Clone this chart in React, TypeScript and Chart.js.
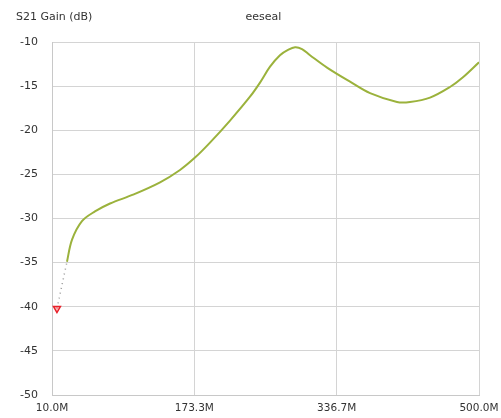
import React, { useEffect, useRef } from "react";
import { Chart, registerables } from "chart.js";

Chart.register(...registerables);

const freqsM = [15.7, 27.2, 33, 44.4, 59.3, 76.6, 103, 134, 156.9, 174.1, 191.3, 214.3, 237.2, 248.7, 260.2, 271.6, 280.8, 288.9, 296.9, 306.1, 325.6, 352, 375, 405.9, 420.8, 443.8, 466.7, 481.6, 500];
const gainDb = [-40.2, -34.9, -32.4, -30.3, -29.2, -28.3, -27.3, -25.9, -24.5, -23.1, -21.4, -18.9, -16.2, -14.6, -12.8, -11.5, -10.9, -10.6, -10.8, -11.5, -12.9, -14.5, -15.8, -16.8, -16.8, -16.3, -15.1, -14.0, -12.3];
const xTickValues = [10, 173.33, 336.67, 500];
const xTickLabels = ["10.0M", "173.3M", "336.7M", "500.0M"];
const yTickValues = [-10, -15, -20, -25, -30, -35, -40, -45, -50];
const chartTitle = "eeseal";
const yAxisTitle = "S21 Gain (dB)";

const FONT = "DejaVu Sans";

export default function App() {
  const ref = useRef<HTMLCanvasElement | null>(null);
  useEffect(() => {
    document.body.style.margin = "0";
    const textPlugin = {
      id: "texts",
      afterDraw(chart: any) {
        const ctx = chart.ctx;
        const area = chart.chartArea;
        ctx.save();
        ctx.fillStyle = "#333";
        ctx.font = `11px "${FONT}"`;
        ctx.textBaseline = "middle";
        ctx.textAlign = "left";
        ctx.fillText(yAxisTitle, 16, 17);
        ctx.textAlign = "center";
        ctx.fillText(chartTitle, (area.left + area.right) / 2 - 2, 17);
        ctx.restore();
      },
    };
    const chart = new Chart(ref.current!, {
      type: "line",
      data: {
        datasets: [
          {
            data: freqsM.map((f, i) => ({ x: f, y: gainDb[i] })),
            borderColor: "#9bb23c",
            borderWidth: 2,
            tension: 0.35,
            pointRadius: (c: any) => (c.dataIndex === 0 ? 4 : 0),
            pointStyle: "triangle",
            rotation: 180,
            pointBorderColor: "#e8202a",
            pointBackgroundColor: "rgba(255,120,120,0.5)",
            pointBorderWidth: 1.5,
            segment: {
              borderDash: (c: any) => (c.p0DataIndex === 0 ? [1, 4] : undefined),
              borderColor: (c: any) => (c.p0DataIndex === 0 ? "#999" : undefined),
              borderWidth: (c: any) => (c.p0DataIndex === 0 ? 1.5 : undefined),
            },
          } as any,
        ],
      },
      options: {
        animation: false,
        responsive: false,
        layout: { padding: { left: 0, right: 22, top: 42, bottom: 0 } },
        plugins: { legend: { display: false }, tooltip: { enabled: false } },
        scales: {
          x: {
            type: "linear",
            min: 10,
            max: 500,
            afterBuildTicks: (s: any) => {
              s.ticks = xTickValues.map((v) => ({ value: v }));
            },
            afterFit: (s: any) => {
              s.height = 23;
              s.paddingRight = 0;
              s.paddingLeft = 0;
            },
            ticks: {
              autoSkip: false,
              maxRotation: 0,
              padding: 7,
              color: "#333",
              font: { family: FONT, size: 10.5 },
              callback: (_v: any, i: number) => xTickLabels[i],
            },
            grid: { color: "#d4d4d4", drawTicks: false, lineWidth: 1 },
            border: { color: "#c8c8c8" },
          },
          y: {
            type: "linear",
            min: -50,
            max: -10,
            afterBuildTicks: (s: any) => {
              s.ticks = yTickValues.map((v) => ({ value: v }));
            },
            afterFit: (s: any) => {
              s.width = 52;
              s.paddingTop = 0;
              s.paddingBottom = 0;
            },
            ticks: {
              padding: 14,
              color: "#333",
              font: { family: FONT, size: 11 },
              callback: (v: any) => String(v),
            },
            grid: { color: "#d4d4d4", drawTicks: false, lineWidth: 1 },
            border: { color: "#c8c8c8" },
          },
        },
      },
      plugins: [textPlugin],
    });
    return () => chart.destroy();
  }, []);
  return (
    <div style={{ position: "absolute", left: 0, top: 0, width: 501, height: 418, background: "#fff" }}>
      <canvas ref={ref} width={501} height={418} />
    </div>
  );
}
